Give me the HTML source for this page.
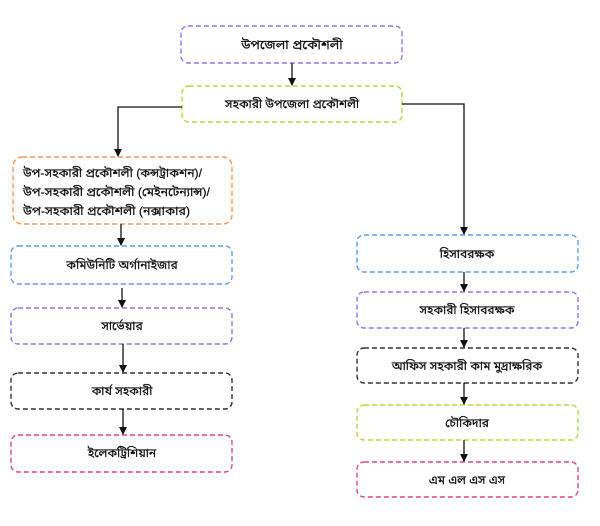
<!DOCTYPE html>
<html><head><meta charset="utf-8"><style>
html,body{margin:0;padding:0;background:#fff;}
svg{display:block;}
text{font-family:"Liberation Sans","Noto Sans Bengali","Lohit Bengali","DejaVu Sans",sans-serif;font-size:12px;fill:#111;stroke:#111;stroke-width:0.25px;}
</style></head><body>
<svg width="600" height="526" viewBox="0 0 600 526" xmlns="http://www.w3.org/2000/svg">
<defs>
<marker id="a" markerWidth="8" markerHeight="8" refX="7" refY="4" orient="auto" markerUnits="userSpaceOnUse">
<path d="M0,0 L8,4 L0,8 Z" fill="#111"/>
</marker>
</defs>
<g fill="none" stroke-width="1.4" stroke-dasharray="5,3">
<rect x="181" y="26" width="221" height="37" rx="7" stroke="#8b74f2"/>
<rect x="182" y="86" width="220" height="36" rx="7" stroke="#a5e03a"/>
<rect x="13" y="157" width="219" height="67" rx="9" stroke="#f5964f"/>
<rect x="11" y="246" width="221" height="38" rx="7" stroke="#5a9cf2"/>
<rect x="11" y="308" width="221" height="36" rx="7" stroke="#8b74f2"/>
<rect x="11" y="373" width="221" height="36" rx="7" stroke="#333"/>
<rect x="11" y="435" width="221" height="37" rx="7" stroke="#e04a6a"/>
<rect x="357" y="235" width="221" height="37" rx="7" stroke="#5a9cf2"/>
<rect x="357" y="292" width="221" height="36" rx="7" stroke="#8b74f2"/>
<rect x="357" y="348" width="221" height="35" rx="7" stroke="#333"/>
<rect x="357" y="405" width="221" height="35" rx="7" stroke="#a5e03a"/>
<rect x="357" y="462" width="221" height="35" rx="7" stroke="#e04a6a"/>
</g>
<g fill="none" stroke="#111" stroke-width="1.3">
<line x1="292" y1="63" x2="292" y2="85" marker-end="url(#a)"/>
<polyline points="182,107 118,107 118,156" marker-end="url(#a)"/>
<polyline points="402,104 464,104 464,234" marker-end="url(#a)"/>
<line x1="121" y1="224" x2="121" y2="245" marker-end="url(#a)"/>
<line x1="122" y1="288" x2="122" y2="307" marker-end="url(#a)"/>
<line x1="123" y1="344" x2="123" y2="372" marker-end="url(#a)"/>
<line x1="123" y1="409" x2="123" y2="434" marker-end="url(#a)"/>
<line x1="464" y1="272" x2="464" y2="291" marker-end="url(#a)"/>
<line x1="464" y1="328" x2="464" y2="347" marker-end="url(#a)"/>
<line x1="464" y1="383" x2="464" y2="404" marker-end="url(#a)"/>
<line x1="464" y1="440" x2="464" y2="461" marker-end="url(#a)"/>
</g>
<g text-anchor="middle">
<text x="292" y="49" style="font-size:13px">উপজেলা প্রকৌশলী</text>
<text x="292" y="108">সহকারী উপজেলা প্রকৌশলী</text>
<text x="122" y="269">কমিউনিটি অর্গানাইজার</text>
<text x="122" y="330">সার্ভেয়ার</text>
<text x="122" y="395">কার্য সহকারী</text>
<text x="122" y="457">ইলেকট্রিশিয়ান</text>
<text x="467" y="258">হিসাবরক্ষক</text>
<text x="467" y="314">সহকারী হিসাবরক্ষক</text>
<text x="467" y="370">আফিস সহকারী কাম মুদ্রাক্ষরিক</text>
<text x="467" y="427">চৌকিদার</text>
<text x="467" y="484">এম এল এস এস</text>
</g>
<g>
<text x="23" y="177" textLength="179" lengthAdjust="spacingAndGlyphs">উপ-সহকারী প্রকৌশলী (কন্সট্রাকশন)/</text>
<text x="23" y="196" textLength="187" lengthAdjust="spacingAndGlyphs">উপ-সহকারী প্রকৌশলী (মেইনটেন্যান্স)/</text>
<text x="23" y="215" textLength="167" lengthAdjust="spacingAndGlyphs">উপ-সহকারী প্রকৌশলী (নক্সাকার)</text>
</g>
</svg>
</body></html>
